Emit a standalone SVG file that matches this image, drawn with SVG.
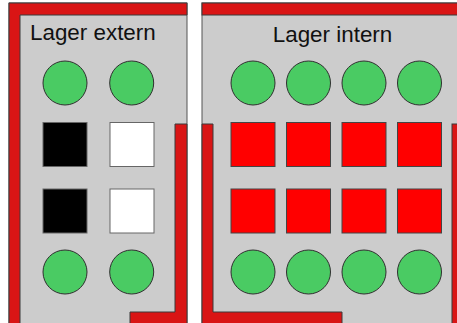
<svg xmlns="http://www.w3.org/2000/svg" width="457" height="323" viewBox="0 0 457 323">
<style>
.panel{fill:#cccccc;stroke:#555555;stroke-width:1}
.wall{fill:#d91515;stroke:#3a3a3a;stroke-width:1}
.slot{fill:#4acb63;stroke:#2f2f2f;stroke-width:1}
.blk{fill:#000000;stroke:#666666;stroke-width:1}
.wht{fill:#ffffff;stroke:#666666;stroke-width:1}
.red{fill:#ff0000;stroke:#444444;stroke-width:1}
.lbl{font-family:"Liberation Sans",Arial,sans-serif;font-size:22.4px;fill:#111111}
</style>
<rect width="457" height="323" fill="#ffffff"/>
<g id="lager-extern">
  <rect class="panel" x="9" y="3" width="178" height="330"/>
  <polygon class="wall" points="9,3 187,3 187,15 20,15 20,333 9,333"/>
  <polygon class="wall" points="175,124 187,124 187,333 130,333 130,312 175,312"/>
  <text class="lbl" x="30" y="39.5">Lager extern</text>
  <circle class="slot" cx="65" cy="83" r="22"/>
  <circle class="slot" cx="131.7" cy="83" r="22"/>
  <rect class="blk" x="43" y="122.5" width="44" height="44"/>
  <rect class="wht" x="110" y="122.5" width="44" height="44"/>
  <rect class="blk" x="43" y="189" width="44" height="44"/>
  <rect class="wht" x="110" y="189" width="44" height="44"/>
  <circle class="slot" cx="65" cy="272" r="22"/>
  <circle class="slot" cx="131.7" cy="272" r="22"/>
</g>
<g id="lager-intern">
  <rect class="panel" x="202" y="3" width="261" height="330"/>
  <rect class="wall" x="202" y="3" width="261" height="12"/>
  <polygon class="wall" points="202,124 213,124 213,312 342,312 342,333 202,333"/>
  <rect class="wall" x="452" y="124" width="11" height="209"/>
  <text class="lbl" x="332.5" y="41.5" text-anchor="middle">Lager intern</text>
  <circle class="slot" cx="253" cy="83" r="22"/>
  <circle class="slot" cx="308.5" cy="83" r="22"/>
  <circle class="slot" cx="364" cy="83" r="22"/>
  <circle class="slot" cx="419.5" cy="83" r="22"/>
  <rect class="red" x="231" y="122.5" width="44" height="44"/>
  <rect class="red" x="286.5" y="122.5" width="44" height="44"/>
  <rect class="red" x="342" y="122.5" width="44" height="44"/>
  <rect class="red" x="397.5" y="122.5" width="44" height="44"/>
  <rect class="red" x="231" y="189" width="44" height="44"/>
  <rect class="red" x="286.5" y="189" width="44" height="44"/>
  <rect class="red" x="342" y="189" width="44" height="44"/>
  <rect class="red" x="397.5" y="189" width="44" height="44"/>
  <circle class="slot" cx="253" cy="272" r="22"/>
  <circle class="slot" cx="308.5" cy="272" r="22"/>
  <circle class="slot" cx="364" cy="272" r="22"/>
  <circle class="slot" cx="419.5" cy="272" r="22"/>
</g>
<g id="connectors"/>
</svg>
